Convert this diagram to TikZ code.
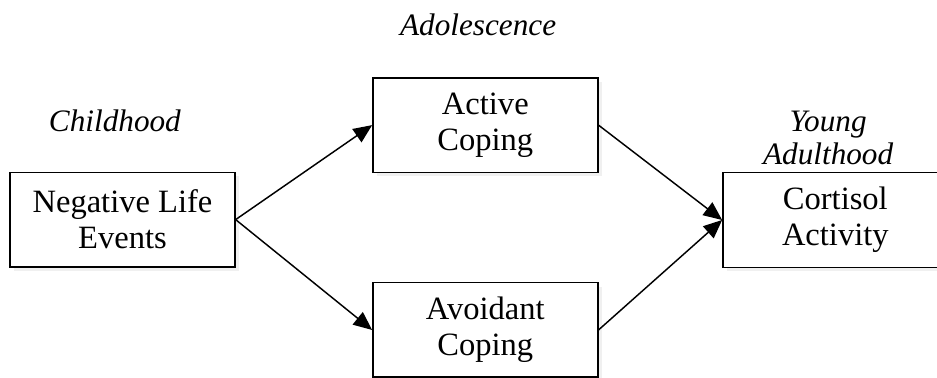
\documentclass[tikz,border=0pt]{standalone}
\usepackage{fontspec}
\setmainfont{Liberation Serif}
\usepackage{tikz}
\usetikzlibrary{shapes, arrows.meta, shadows}
\tikzstyle{factor} = [rectangle, minimum width=5.95cm, minimum height=2.5cm, text centered, align=center, draw=black, line width=1.1pt, fill=white, drop shadow={opacity=0.12, shadow xshift=3pt, shadow yshift=-3pt}]
\tikzstyle{period} = [font=\fontsize{23.5}{25}\selectfont\itshape, align=center, inner sep=0pt]
\tikzstyle{edge} = [line width=1.1pt, -{Triangle[length=14pt, width=12pt]}]

\begin{document}
\begin{tikzpicture}[node distance=9.6cm, font=\fontsize{24.5}{27}\selectfont]
\useasboundingbox (0,0) rectangle (24.79,-9.975);

\node (nle) [factor] at (3.24,-5.81) {Negative Life\\Events};
\node (act) [factor, right of=nle, yshift=2.5cm] {Active\\Coping};
\node (avo) [factor, right of=nle, yshift=-2.92cm] {Avoidant\\Coping};
\node (cor) [factor, right of=act, xshift=-0.34cm, yshift=-2.51cm] {Cortisol\\Activity};

\node (child) [period, anchor=base] at (3.04,-3.49) {Childhood};
\node (adol) [period, anchor=base] at (12.65,-0.93) {Adolescence};
\node (young) [period, anchor=base] at (21.91,-4.36) {Young\\Adulthood};

\draw [edge] (nle.east) -- (act.west);
\draw [edge] (nle.east) -- (avo.west);
\draw [edge] (act.east) -- (cor.west);
\draw [edge] (avo.east) -- (cor.west);

\end{tikzpicture}
\end{document}
